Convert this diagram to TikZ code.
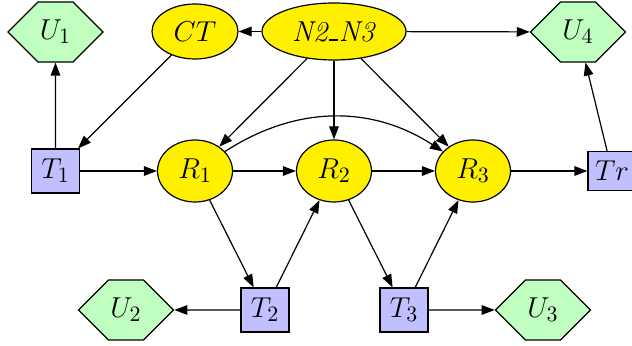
\documentclass[tikz,border=0pt]{standalone}
\usetikzlibrary{shapes.geometric,shapes.symbols,arrows.meta}
\definecolor{ugreen}{RGB}{192,255,192}
\definecolor{tblue}{RGB}{192,192,255}
\definecolor{ryellow}{RGB}{255,240,0}
\newcommand{\myus}{\kern0.04em\rule{0.32em}{0.06em}\kern0.04em}
\begin{document}
\begin{tikzpicture}[x=0.5pt,y=-0.5pt,
  every node/.style={font=\fontsize{15.3}{18}\selectfont, inner sep=0pt, draw=black, line width=0.6pt},
  unode/.style={shape=signal, signal to=east and west, signal pointer angle=90, fill=ugreen, minimum width=47.5pt, minimum height=30pt},
  tnode/.style={rectangle, fill=tblue, minimum width=24pt, minimum height=22pt},
  rnode/.style={ellipse, fill=ryellow, minimum width=37.5pt, minimum height=31pt},
  edge/.style={draw, line width=0.6pt, -{Triangle[length=6.5pt,width=4.8pt]}}]
\useasboundingbox (0,0) rectangle (632,346);
\node[unode] (U1) at (55.5,32) {$U_1$};
\node[ellipse, fill=ryellow, minimum width=43pt, minimum height=27.5pt] (CT) at (195,31.5) {$CT$};
\node[ellipse, fill=ryellow, minimum width=72pt, minimum height=28.5pt, font=\Large] (N) at (334,31.5) {\textit{N2\myus N3}};
\node[unode] (U4) at (578,32) {$U_4$};
\node[tnode] (T1) at (55.5,171) {$T_1$};
\node[rnode] (R1) at (195,171) {$R_1$};
\node[rnode] (R2) at (334,171) {$R_2$};
\node[rnode] (R3) at (473,171) {$R_3$};
\node[tnode, minimum height=19.5pt] (Tr) at (612,171) {$Tr$};
\node[tnode] (T2) at (265,310) {$T_2$};
\node[tnode] (T3) at (404,310) {$T_3$};
\node[unode] (U2) at (126,310) {$U_2$};
\node[unode] (U3) at (543,310) {$U_3$};
\path[edge] (T1) -- (U1);
\path[edge] (CT) -- (T1);
\path[edge] (N) -- (CT);
\path[edge] (N) -- (U4);
\path[edge] (N) -- (R1);
\path[edge] (N) -- (R2);
\path[edge] (N) -- (R3);
\path[edge] (T1) -- (R1);
\path[edge] (R1) -- (R2);
\path[edge] (R2) -- (R3);
\path[edge] (R3) -- (Tr);
\path[edge] (R1) to[bend left=33] (R3);
\path[edge] (R1) -- (T2);
\path[edge] (T2) -- (R2);
\path[edge] (R2) -- (T3);
\path[edge] (T3) -- (R3);
\path[edge] (T2) -- (U2);
\path[edge] (T3) -- (U3);
\path[edge] (Tr) -- (U4);
\end{tikzpicture}
\end{document}
